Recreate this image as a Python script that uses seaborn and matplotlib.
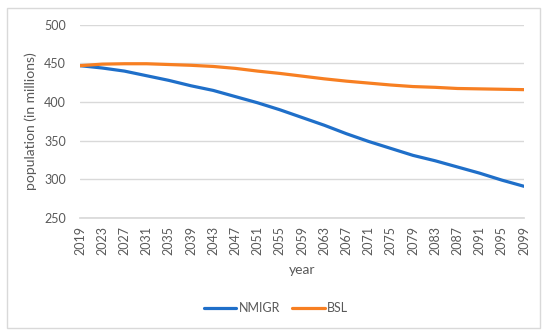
import numpy as np
import pandas as pd
import matplotlib
matplotlib.use("Agg")
import matplotlib.pyplot as plt
import seaborn as sns
from matplotlib.patches import Rectangle
from matplotlib.lines import Line2D

years = [2019, 2023, 2027, 2031, 2035, 2039, 2043, 2047, 2051, 2055, 2059,
         2063, 2067, 2071, 2075, 2079, 2083, 2087, 2091, 2095, 2099]
nmigr = [447, 444, 440, 434, 428, 421, 415, 407, 399, 390, 380,
         370, 359, 349, 340, 331, 324, 316, 308, 299, 291]
bsl = [447, 449, 449.5, 449.5, 448.5, 447.5, 446, 443.5, 440, 437, 433.5,
       430, 427, 424.5, 422, 420, 419, 417.5, 417, 416.5, 416]
series_names = ["NMIGR", "BSL"]
colors = ["#1F6FC9", "#F77F22"]
y_ticks = [250, 300, 350, 400, 450, 500]

df = pd.DataFrame({
    "year": years * 2,
    "value": nmigr + bsl,
    "series": [series_names[0]] * len(years) + [series_names[1]] * len(years),
})

sns.set_theme(style="white")
plt.rcParams["font.family"] = ["Lato", "DejaVu Sans"]
text_color = "#595959"

fig = plt.figure(figsize=(5.5, 3.35), dpi=100)
ax = fig.add_axes([80 / 550, 1 - 218 / 335, 444 / 550, (218 - 24.7) / 335])

sns.lineplot(data=df, x="year", y="value", hue="series",
             palette=dict(zip(series_names, colors)), linewidth=2.3,
             ax=ax, legend=False, solid_capstyle="round")

ax.set_xlim(years[0], years[-1])
ax.set_ylim(250, 500)
ax.set_yticks(y_ticks)
ax.set_xticks(years)
ax.set_xticklabels([str(y) for y in years], rotation=90)
ax.grid(axis="y", color="#D9D9D9", linewidth=1)
ax.set_axisbelow(True)
for s in ax.spines.values():
    s.set_visible(False)
ax.spines["bottom"].set_visible(True)
ax.spines["bottom"].set_color("#D9D9D9")
ax.tick_params(axis="both", length=0, labelsize=9, colors=text_color)
ax.tick_params(axis="y", pad=10)
ax.tick_params(axis="x", pad=6)

ax.set_xlabel("year", fontsize=10, color=text_color, labelpad=6)
ax.set_ylabel("population (in millions)", fontsize=10, color=text_color, labelpad=5)

handles = [Line2D([0], [0], color=c, lw=2.3) for c in colors]
fig.legend(handles, series_names, loc="center", bbox_to_anchor=(276 / 550, 1 - 308 / 335),
           ncol=2, frameon=False, fontsize=9, handlelength=2.6, handletextpad=0.2,
           columnspacing=1.0, labelcolor=text_color)

fig.patches.append(Rectangle((7 / 550, 1 - 328 / 335), 533 / 550, 320 / 335,
                             transform=fig.transFigure, fill=False,
                             edgecolor="#D9D9D9", linewidth=1))

fig.savefig("out.png", dpi=100)
